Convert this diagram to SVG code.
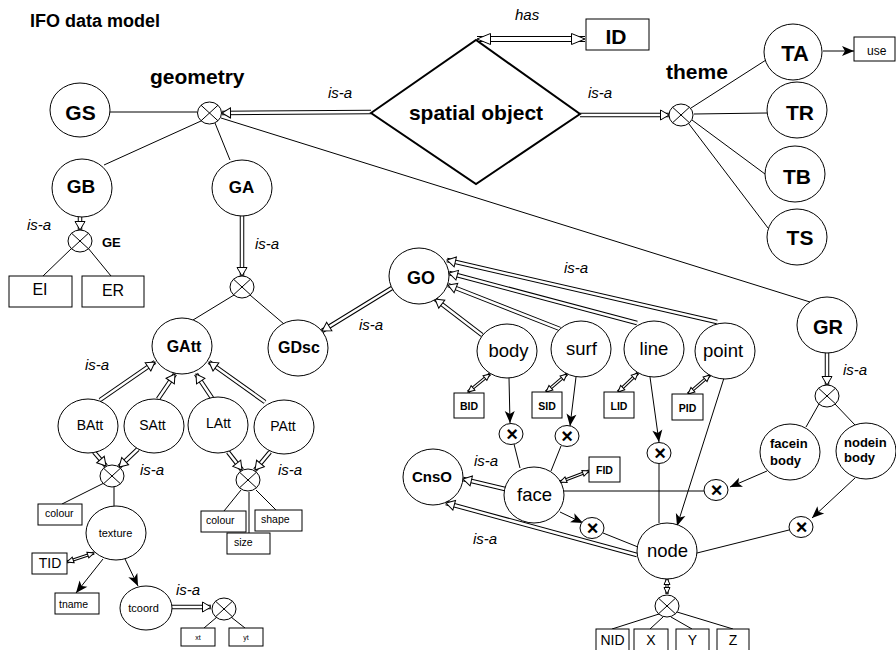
<svg xmlns="http://www.w3.org/2000/svg" width="896" height="650" viewBox="0 0 896 650">
<defs>
<style>
text{font-family:"Liberation Sans",Arial,sans-serif;fill:#000}
.n ellipse,.n rect,.n polygon{fill:#fff;stroke:#000;stroke-width:1}
.ln path{stroke:#000;stroke-width:1;fill:none}
.o{stroke:#000;stroke-width:4.5;fill:none}
.i{stroke:#fff;stroke-width:2.5;fill:none;marker-end:url(#h)}
.os{stroke:#000;stroke-width:3.2;fill:none}
.is{stroke:#fff;stroke-width:1.2;fill:none;marker-start:url(#hs);marker-end:url(#hs)}
.ob{stroke:#000;stroke-width:6;fill:none}
.ib{stroke:#fff;stroke-width:4;fill:none;marker-start:url(#hb);marker-end:url(#hb)}
.fa path{stroke:#000;stroke-width:1;fill:none;marker-end:url(#f)}
.b{font-weight:bold}
.isa{font-style:italic;font-size:15px}
.c{text-anchor:middle}
.xs{font-weight:bold;font-size:20px;text-anchor:middle}
.xc ellipse{fill:#fff;stroke:#000;stroke-width:1}
.xc path{stroke:#000;stroke-width:1;fill:none}
</style>
<marker id="h" markerUnits="userSpaceOnUse" markerWidth="12" markerHeight="12" refX="9" refY="5.5" orient="auto" overflow="visible"><path d="M0.5,0.5 L9,5.5 L0.5,10.5 z" fill="#fff" stroke="#000" stroke-width="1"/></marker>
<marker id="hs" markerUnits="userSpaceOnUse" markerWidth="8" markerHeight="8" refX="7" refY="3.5" orient="auto-start-reverse" overflow="visible"><path d="M0.5,0.5 L7,3.5 L0.5,6.5 z" fill="#fff" stroke="#000" stroke-width="1"/></marker>
<marker id="hb" markerUnits="userSpaceOnUse" markerWidth="15" markerHeight="13" refX="14" refY="6" orient="auto-start-reverse" overflow="visible"><path d="M0.5,0.5 L14,6 L0.5,11.5 z" fill="#fff" stroke="#000" stroke-width="1"/></marker>
<marker id="f" markerUnits="userSpaceOnUse" markerWidth="13" markerHeight="11" refX="12" refY="5" orient="auto" overflow="visible"><path d="M0,0 L12,5 L0,10 L3,5 z" fill="#000"/></marker>
<g id="xc" class="xc"><ellipse cx="0" cy="0" rx="12" ry="11"/><path d="M-8.5,-7.8 L8.5,7.8 M-8.5,7.8 L8.5,-7.8"/></g>
</defs>
<rect x="0" y="0" width="896" height="650" fill="#fff"/>
<text x="30" y="27" class="b" font-size="18">IFO data model</text>
<text x="150" y="84" class="b" font-size="21">geometry</text>
<text x="666" y="79" class="b" font-size="21">theme</text>

<g id="connectors">
<g class="ln">
<path d="M110,112 L197,112"/>
<path d="M104,165 L201,121"/>
<path d="M230,160 L215,123"/>
<path d="M221,118 L810,302"/>
<path d="M691,108 L766,60"/>
<path d="M694,114 L767,113"/>
<path d="M692,120 L765,174"/>
<path d="M689,124 L768,228"/>
<path d="M72,248 L43,276"/>
<path d="M88,248 L111,276"/>
<path d="M234,295 L193,320"/>
<path d="M250,295 L284,324"/>
<path d="M104,483 L62,504"/>
<path d="M114,487 L114,506"/>
<path d="M241,490 L224,511"/>
<path d="M249,492 L249,533"/>
<path d="M256,490 L276,510"/>
<path d="M217,617 L204,628"/>
<path d="M231,617 L245,628"/>
<path d="M514,444 L520,468"/>
<path d="M561,446 L551,471"/>
<path d="M659,464 L659,523"/>
<path d="M564,491 L704,491"/>
<path d="M603,533 L638,547"/>
<path d="M789,530 L697,553"/>
<path d="M819,404 L806,427"/>
<path d="M835,404 L855,425"/>
<path d="M659,614 L612,629"/>
<path d="M663,617 L650,629"/>
<path d="M671,617 L692,629"/>
<path d="M677,612 L733,629"/>
</g>
<g class="fa">
<path d="M823,51 L854,51"/>
<path d="M103,559 L76,593"/>
<path d="M125,559 L138,586"/>
<path d="M509,378 L510,423"/>
<path d="M576,377 L570,426"/>
<path d="M650,377 L659,442"/>
<path d="M724,378 L677,526"/>
<path d="M560,512 L583,523"/>
<path d="M767,471 L730,487"/>
<path d="M855,478 L812,518"/>
</g>
<g id="isa-arrows">
<path class="o" d="M371,112 L222,113"/><path class="i" d="M371,112 L222,113"/>
<path class="o" d="M580,115 L669,115"/><path class="i" d="M580,115 L669,115"/>
<path class="o" d="M80,217 L80,230"/><path class="i" d="M80,217 L80,230"/>
<path class="o" d="M242,216 L242,276"/><path class="i" d="M242,216 L242,276"/>
<path class="o" d="M100,400 L155,362"/><path class="i" d="M100,400 L155,362"/>
<path class="o" d="M158,399 L175,374"/><path class="i" d="M158,399 L175,374"/>
<path class="o" d="M212,398 L196,374"/><path class="i" d="M212,398 L196,374"/>
<path class="o" d="M265,402 L209,362"/><path class="i" d="M265,402 L209,362"/>
<path class="o" d="M94,452 L106,466"/><path class="i" d="M94,452 L106,466"/>
<path class="o" d="M138,449 L119,467"/><path class="i" d="M138,449 L119,467"/>
<path class="o" d="M228,452 L242,470"/><path class="i" d="M228,452 L242,470"/>
<path class="o" d="M270,452 L255,470"/><path class="i" d="M270,452 L255,470"/>
<path class="o" d="M172,607 L211,607"/><path class="i" d="M172,607 L211,607"/>
<path class="o" d="M392,288 L322,331"/><path class="i" d="M392,288 L322,331"/>
<path class="o" d="M482,335 L435,299"/><path class="i" d="M482,335 L435,299"/>
<path class="o" d="M560,329 L448,285"/><path class="i" d="M560,329 L448,285"/>
<path class="o" d="M637,323 L449,273"/><path class="i" d="M637,323 L449,273"/>
<path class="o" d="M717,322 L447,260"/><path class="i" d="M717,322 L447,260"/>
<path class="o" d="M505,489 L463,479"/><path class="i" d="M505,489 L463,479"/>
<path class="o" d="M637,555 L446,503"/><path class="i" d="M637,555 L446,503"/>
<path class="o" d="M827,353 L827,385"/><path class="i" d="M827,353 L827,385"/>
</g>
<g id="id-arrows">
<path class="ob" d="M477,39 L585,39"/><path class="ib" d="M477,39 L585,39"/>
<path class="os" d="M67,562 L94,553"/><path class="is" d="M67,562 L94,553"/>
<path class="os" d="M490,374 L468,392"/><path class="is" d="M490,374 L468,392"/>
<path class="os" d="M567,374 L546,392"/><path class="is" d="M567,374 L546,392"/>
<path class="os" d="M638,373 L618,392"/><path class="is" d="M638,373 L618,392"/>
<path class="os" d="M710,375 L688,394"/><path class="is" d="M710,375 L688,394"/>
<path class="os" d="M560,482 L589,471"/><path class="is" d="M560,482 L589,471"/>
<path class="os" d="M667,578 L667,594"/><path class="is" d="M667,578 L667,594"/>
</g>
<g id="labels">
<text x="515" y="20" class="isa">has</text>
<text x="328" y="98" class="isa">is-a</text>
<text x="588" y="98" class="isa">is-a</text>
<text x="27" y="230" class="isa">is-a</text>
<text x="255" y="249" class="isa">is-a</text>
<text x="85" y="370" class="isa">is-a</text>
<text x="140" y="475" class="isa">is-a</text>
<text x="278" y="475" class="isa">is-a</text>
<text x="176" y="595" class="isa">is-a</text>
<text x="359" y="330" class="isa">is-a</text>
<text x="564" y="273" class="isa">is-a</text>
<text x="843" y="375" class="isa">is-a</text>
<text x="474" y="466" class="isa">is-a</text>
<text x="473" y="544" class="isa">is-a</text>
</g>
</g>

<g id="spatial" class="n"><polygon points="371,113 476,40 580,114 476,184" style="stroke-width:2"/><text x="476" y="120" class="b c" font-size="21">spatial object</text></g>
<g id="ID" class="n"><rect x="586" y="19" width="63" height="31"/><text x="616" y="44" class="b c" font-size="21">ID</text></g>
<g id="GS" class="n"><ellipse cx="80" cy="110" rx="30" ry="27"/><text x="80.5" y="120" class="b c" font-size="21">GS</text></g>
<g id="GB" class="n"><ellipse cx="82" cy="188" rx="30" ry="29"/><text x="81" y="193" class="b c" font-size="19">GB</text></g>
<g id="GA" class="n"><ellipse cx="242" cy="188" rx="30" ry="28"/><text x="241.5" y="193" class="b c" font-size="17">GA</text></g>
<use id="gcross" href="#xc" x="209.5" y="113"/>
<use id="tcross" href="#xc" x="681" y="115"/>
<g id="TA" class="n"><ellipse cx="793" cy="52" rx="29" ry="28"/><text x="795" y="61" class="b c" font-size="22">TA</text></g>
<g id="TR" class="n"><ellipse cx="797" cy="110" rx="30" ry="28"/><text x="800" y="120" class="b c" font-size="21">TR</text></g>
<g id="TB" class="n"><ellipse cx="795" cy="174" rx="30" ry="28"/><text x="797" y="184" class="b c" font-size="21">TB</text></g>
<g id="TS" class="n"><ellipse cx="797" cy="237" rx="30" ry="28"/><text x="800" y="245" class="b c" font-size="21">TS</text></g>
<g id="use" class="n"><rect x="854" y="37" width="41" height="24"/><text x="867" y="55" font-size="12">use</text></g>
<use id="gecross" href="#xc" x="80" y="241"/>
<text x="102" y="247" class="b" font-size="13">GE</text>
<g id="EI" class="n"><rect x="9" y="276" width="63" height="31"/><text x="40" y="295" class="c" font-size="16">EI</text></g>
<g id="ER" class="n"><rect x="82" y="276" width="62" height="31"/><text x="113" y="296" class="c" font-size="16">ER</text></g>
<use id="gacross" href="#xc" x="242" y="287"/>
<g id="GAtt" class="n"><ellipse cx="182" cy="346" rx="30" ry="28"/><text x="184" y="352" class="b c" font-size="16">GAtt</text></g>
<g id="GDsc" class="n"><ellipse cx="298" cy="348" rx="30" ry="28"/><text x="299" y="353" class="b c" font-size="16">GDsc</text></g>
<g id="BAtt" class="n"><ellipse cx="88" cy="426" rx="30" ry="27"/><text x="90" y="430" class="c" font-size="14">BAtt</text></g>
<g id="SAtt" class="n"><ellipse cx="154" cy="426" rx="30" ry="27"/><text x="152.5" y="430" class="c" font-size="14">SAtt</text></g>
<g id="LAtt" class="n"><ellipse cx="218" cy="425" rx="30" ry="28"/><text x="218.5" y="428" class="c" font-size="14">LAtt</text></g>
<g id="PAtt" class="n"><ellipse cx="284" cy="427" rx="30" ry="27"/><text x="283" y="431" class="c" font-size="14">PAtt</text></g>
<use id="bscross" href="#xc" x="112" y="476"/>
<use id="lpcross" href="#xc" x="248" y="480"/>
<g id="colour1" class="n"><rect x="38" y="504" width="44" height="21"/><text x="45" y="517" font-size="10.5">colour</text></g>
<g id="texture" class="n"><ellipse cx="116" cy="533" rx="30" ry="27"/><text x="115.5" y="537" class="c" font-size="11">texture</text></g>
<g id="TID" class="n"><rect x="32" y="553" width="35" height="21"/><text x="50" y="568" class="c" font-size="14">TID</text></g>
<g id="tname" class="n"><rect x="55" y="593" width="44" height="21"/><text x="59" y="608" font-size="10.5">tname</text></g>
<g id="tcoord" class="n"><ellipse cx="146" cy="608" rx="26" ry="22"/><text x="143.5" y="612" class="c" font-size="11">tcoord</text></g>
<use id="tccross" href="#xc" x="224" y="609"/>
<g id="xt" class="n"><rect x="181" y="628" width="34" height="18"/><text x="198" y="640" class="c" font-size="7">xt</text></g>
<g id="yt" class="n"><rect x="229" y="628" width="34" height="18"/><text x="246" y="640" class="c" font-size="7">yt</text></g>
<g id="colour2" class="n"><rect x="201" y="511" width="45" height="21"/><text x="206" y="524" font-size="10.5">colour</text></g>
<g id="shape" class="n"><rect x="255" y="510" width="47" height="21"/><text x="261" y="523" font-size="10.5">shape</text></g>
<g id="size" class="n"><rect x="227" y="533" width="43" height="21"/><text x="234" y="546" font-size="10.5">size</text></g>
<g id="GO" class="n"><ellipse cx="419" cy="276" rx="30" ry="28"/><text x="421" y="284" class="b c" font-size="18">GO</text></g>
<g id="body" class="n"><ellipse cx="507" cy="351" rx="30" ry="27"/><text x="508.5" y="357" class="c" font-size="18.5">body</text></g>
<g id="surf" class="n"><ellipse cx="581" cy="349" rx="30" ry="28"/><text x="581.5" y="355" class="c" font-size="18.5">surf</text></g>
<g id="line" class="n"><ellipse cx="654" cy="349" rx="30" ry="28"/><text x="654" y="355" class="c" font-size="18.5">line</text></g>
<g id="point" class="n"><ellipse cx="725" cy="351" rx="30" ry="28"/><text x="723" y="357" class="c" font-size="18.5">point</text></g>
<g id="BID" class="n"><rect x="454" y="393" width="30" height="25"/><text x="469" y="410" class="b c" font-size="10.5">BID</text></g>
<g id="SID" class="n"><rect x="532" y="392" width="30" height="26"/><text x="547" y="410" class="b c" font-size="10.5">SID</text></g>
<g id="LID" class="n"><rect x="604" y="392" width="30" height="26"/><text x="619" y="410" class="b c" font-size="10.5">LID</text></g>
<g id="PID" class="n"><rect x="672" y="394" width="31" height="26"/><text x="687.5" y="412" class="b c" font-size="10.5">PID</text></g>
<g id="x1" class="n"><ellipse cx="511" cy="434" rx="12" ry="10.5"/><text x="512" y="441" class="xs">×</text></g>
<g id="x2" class="n"><ellipse cx="567" cy="436" rx="12" ry="10.5"/><text x="567" y="443" class="xs">×</text></g>
<g id="x3" class="n"><ellipse cx="659" cy="453" rx="12" ry="10.5"/><text x="660" y="460" class="xs">×</text></g>
<g id="face" class="n"><ellipse cx="534" cy="495" rx="30" ry="28"/><text x="534.5" y="501" class="c" font-size="18.5">face</text></g>
<g id="FID" class="n"><rect x="589" y="457" width="31" height="25"/><text x="604.5" y="474" class="b c" font-size="10.5">FID</text></g>
<g id="CnsO" class="n"><ellipse cx="433" cy="477" rx="30" ry="28"/><text x="432" y="482" class="b c" font-size="15">CnsO</text></g>
<g id="x4" class="n"><ellipse cx="592" cy="528" rx="12" ry="10.5"/><text x="592.5" y="535" class="xs">×</text></g>
<g id="node" class="n"><ellipse cx="667" cy="551" rx="30" ry="28"/><text x="667.5" y="557" class="c" font-size="18.5">node</text></g>
<use id="ncross" href="#xc" x="667" y="606"/>
<g id="NID" class="n"><rect x="596" y="629" width="33" height="24"/><text x="612.5" y="645" class="c" font-size="14">NID</text></g>
<g id="X" class="n"><rect x="634" y="629" width="34" height="24"/><text x="651" y="645" class="c" font-size="14">X</text></g>
<g id="Y" class="n"><rect x="676" y="629" width="33" height="24"/><text x="692.5" y="645" class="c" font-size="14">Y</text></g>
<g id="Z" class="n"><rect x="717" y="629" width="32" height="24"/><text x="733" y="645" class="c" font-size="14">Z</text></g>
<g id="GR" class="n"><ellipse cx="827" cy="325" rx="30" ry="28"/><text x="828" y="334" class="b c" font-size="20">GR</text></g>
<use id="grcross" href="#xc" x="827" y="396"/>
<g id="faceinbody" class="n"><ellipse cx="790" cy="452" rx="30" ry="28"/><text x="770" y="448" class="b" font-size="13">facein</text><text x="770" y="465" class="b" font-size="13">body</text></g>
<g id="nodeinbody" class="n"><ellipse cx="866" cy="451" rx="30" ry="28"/><text x="844" y="447" class="b" font-size="13">nodein</text><text x="844" y="462" class="b" font-size="13">body</text></g>
<g id="x5" class="n"><ellipse cx="716" cy="490" rx="12" ry="10.5"/><text x="716.5" y="497" class="xs">×</text></g>
<g id="x6" class="n"><ellipse cx="801" cy="527" rx="12" ry="10.5"/><text x="801.5" y="534" class="xs">×</text></g>
</svg>
